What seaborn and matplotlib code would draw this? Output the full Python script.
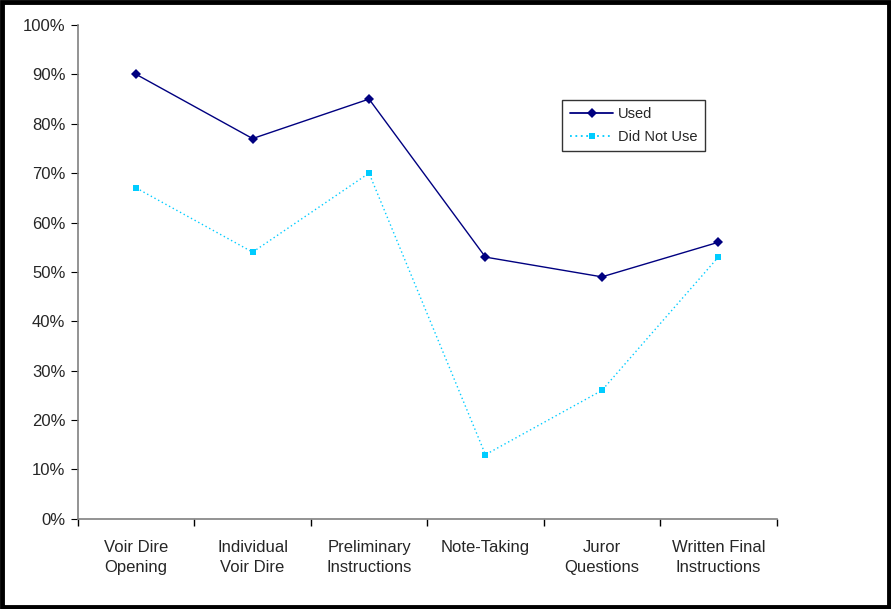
import numpy as np
import pandas as pd
import matplotlib
matplotlib.use("Agg")
import matplotlib.pyplot as plt
import seaborn as sns
from matplotlib.ticker import FixedLocator, PercentFormatter
from matplotlib.patches import Rectangle

# --------------------------------------------------
# Data
# --------------------------------------------------

categories = [
    "Voir Dire\nOpening",
    "Individual\nVoir Dire",
    "Preliminary\nInstructions",
    "Note-Taking",
    "Juror\nQuestions",
    "Written Final\nInstructions",
]
used = [90, 77, 85, 53, 49, 56]
did_not_use = [67, 54, 70, 13, 26, 53]

df = pd.DataFrame({
    "technique": categories * 2,
    "pct": used + did_not_use,
    "group": ["Used"] * len(used) + ["Did Not Use"] * len(did_not_use),
})

# --------------------------------------------------
# Plot
# --------------------------------------------------

sns.set_style("white")
plt.rcParams["font.family"] = ["Liberation Sans", "DejaVu Sans"]

fig = plt.figure(figsize=(8.91, 6.09), dpi=100)
ax = fig.add_axes([0.0875, 0.148, 0.784, 0.811])

sns.lineplot(
    data=df, x="technique", y="pct", hue="group", style="group",
    hue_order=["Used", "Did Not Use"],
    palette={"Used": "#000080", "Did Not Use": "#00CCFF"},
    dashes={"Used": "", "Did Not Use": (1, 2)},
    markers={"Used": "D", "Did Not Use": "s"},
    markersize=5, markeredgewidth=0, linewidth=1.0,
    ax=ax,
)

ax.set_xlim(-0.5, len(categories) - 0.5)
ax.set_ylim(0, 100)
ax.yaxis.set_major_locator(FixedLocator(np.arange(0, 101, 10)))
ax.yaxis.set_major_formatter(PercentFormatter(decimals=0))
ax.set_xticks(range(len(categories)))
ax.set_xticklabels(categories, fontsize=12, linespacing=1.45)
ax.xaxis.set_minor_locator(FixedLocator(np.arange(-0.5, len(categories), 1)))
ax.tick_params(axis="x", which="major", length=0, pad=15)
ax.tick_params(axis="x", which="minor", length=5, color="#000000", width=1, direction="out", bottom=True)
ax.tick_params(axis="y", length=5, direction="out", left=True, labelsize=12, color="#000000", pad=4)
ax.set_xlabel("")
ax.set_ylabel("")

for side in ["top", "right"]:
    ax.spines[side].set_visible(False)
for side in ["left", "bottom"]:
    ax.spines[side].set_color("#808080")
    ax.spines[side].set_linewidth(1.2)

leg = ax.legend(
    title=None, loc="upper left", bbox_to_anchor=(0.683, 0.863),
    frameon=True, fancybox=False, fontsize=10.5, handlelength=3,
    borderpad=0.5, labelspacing=0.6, handletextpad=0.3,
)
leg.get_frame().set_edgecolor("#000000")
leg.get_frame().set_linewidth(1.0)
for line in leg.get_lines():
    line.set_linewidth(1.3)

# outer chart border
fig.patches.append(Rectangle((0.002, 0.003), 0.996, 0.994, transform=fig.transFigure,
                             fill=False, edgecolor="black", linewidth=3.5))

fig.savefig("out.png", dpi=100)
